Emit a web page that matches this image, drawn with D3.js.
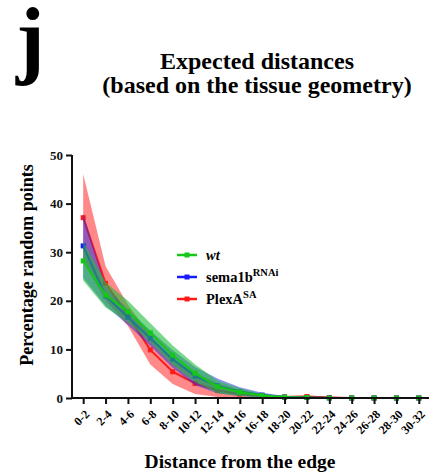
<!DOCTYPE html>
<html>
<head>
<meta charset="utf-8">
<script src="https://cdn.jsdelivr.net/npm/d3@7"></script>
<style>
  body { margin: 0; background: #fff; }
  svg { font-family: "Liberation Serif", "Times New Roman", serif; font-weight: bold; }
</style>
</head>
<body>
<svg id="chart" width="429" height="473"></svg>
<script>
// distance bins from the edge
const bins = ["0-2", "2-4", "4-6", "6-8", "8-10", "10-12", "12-14", "14-16",
    "16-18", "18-20", "20-22", "22-24", "24-26", "26-28", "28-30", "30-32"];

const yTicks = [0, 10, 20, 30, 40, 50];

// mean values
const wtMean    = [28.2, 21.2, 17.8, 13.4, 8.8, 5.1, 2.3, 1.2, 0.5, 0.2, 0.1, 0, 0, 0, 0, 0];
const semaMean  = [31.3, 21.0, 16.6, 12.3, 8.0, 4.5, 2.5, 1.3, 0.6, 0.2, 0.1, 0, 0, 0, 0, 0];
const plexMean  = [37.1, 23.6, 17.0, 9.9, 5.4, 3.0, 1.6, 0.8, 0.4, 0.2, 0.3, 0.1, 0, 0, 0, 0];

// band half widths (sd)
const wtSd   = [4.0, 2.6, 2.2, 2.0, 2.0, 1.8, 1.3, 0.8, 0.4, 0.2, 0.1, 0, 0, 0, 0, 0];
const semaSd = [6.6, 2.0, 1.6, 1.6, 1.8, 1.9, 1.5, 0.9, 0.5, 0.2, 0.1, 0, 0, 0, 0, 0];
const plexSd = [9.0, 3.5, 2.2, 3.0, 2.5, 2.2, 1.4, 0.8, 0.4, 0.2, 0.2, 0.1, 0, 0, 0, 0];

const series = [
    { name: "PlexA", sup: "SA", mean: plexMean, sd: plexSd, color: "#ff1a1a", fill: "rgba(255,40,40,0.55)" },
    { name: "sema1b", sup: "RNAi", mean: semaMean, sd: semaSd, color: "#1a1aff", fill: "rgba(40,40,230,0.5)" },
    { name: "wt", sup: "", mean: wtMean, sd: wtSd, color: "#16c816", fill: "rgba(30,190,60,0.6)" }
];

const svg = d3.select("#chart");

const x0 = 72, x1 = 430, yTop = 155, yBottom = 398;

let xScale = d3.scalePoint()
    .domain(bins)
    .range([x0, x1])
    .padding(0.5);

let yScale = d3.scaleLinear()
    .domain([0, 50])
    .range([yBottom, yTop]);

// panel letter + title
svg.append("text")
    .attr("x", 16).attr("y", 67)
    .style("font-size", "86px")
    .text("j");

svg.append("text")
    .attr("x", 257).attr("y", 69)
    .attr("text-anchor", "middle")
    .style("font-size", "24px")
    .text("Expected distances");

svg.append("text")
    .attr("x", 257).attr("y", 93)
    .attr("text-anchor", "middle")
    .style("font-size", "24px")
    .text("(based on the tissue geometry)");

// bands and lines
series.forEach(s => {
    let rows = bins.map((b, i) => ({ b: b, m: s.mean[i], sd: s.sd[i] }));

    let area = d3.area()
        .x(d => xScale(d.b))
        .y0(d => yScale(Math.max(0, d.m - d.sd)))
        .y1(d => yScale(d.m + d.sd));

    svg.append("path")
        .datum(rows)
        .attr("d", area)
        .attr("fill", s.fill);

    let line = d3.line()
        .x(d => xScale(d.b))
        .y(d => yScale(d.m));

    svg.append("path")
        .datum(rows)
        .attr("d", line)
        .attr("fill", "none")
        .attr("stroke", s.color)
        .attr("stroke-width", 2);

    svg.selectAll(null)
        .data(rows)
        .enter()
        .append("rect")
        .attr("x", d => xScale(d.b) - 2.5)
        .attr("y", d => yScale(d.m) - 2.5)
        .attr("width", 5)
        .attr("height", 5)
        .attr("fill", s.color);
});

// axes
let yAxis = svg.append("g")
    .attr("transform", "translate(" + x0 + ",0)")
    .call(d3.axisLeft(yScale).tickValues(yTicks).tickSize(6).tickPadding(3));

let xAxis = svg.append("g")
    .attr("transform", "translate(0," + yBottom + ")")
    .call(d3.axisBottom(xScale).tickSize(6).tickFormat(""));

[yAxis, xAxis].forEach(a => {
    a.select(".domain").attr("stroke", "#111").attr("stroke-width", 2);
    a.selectAll(".tick line").attr("stroke", "#111").attr("stroke-width", 2);
});
xAxis.select(".domain").attr("d", "M" + x0 + ",0H" + x1);
yAxis.select(".domain").attr("d", "M0," + yTop + "V" + yBottom);

yAxis.selectAll(".tick text")
    .style("font-family", "Liberation Serif")
    .style("font-weight", "bold")
    .style("font-size", "13px")
    .attr("fill", "#111");

// rotated bin labels
svg.selectAll(".xlab")
    .data(bins)
    .enter()
    .append("text")
    .attr("class", "xlab")
    .attr("text-anchor", "end")
    .attr("transform", d => "translate(" + (xScale(d) + 1) + ",409) rotate(-45)")
    .attr("dy", "0.7em")
    .style("font-size", "12px")
    .text(d => d);

// axis titles
svg.append("text")
    .attr("transform", "translate(33,265) rotate(-90)")
    .attr("text-anchor", "middle")
    .style("font-size", "18px")
    .text("Percentage random points");

svg.append("text")
    .attr("x", 240).attr("y", 468)
    .attr("text-anchor", "middle")
    .style("font-size", "19.5px")
    .text("Distance from the edge");

// legend
const legendItems = [series[2], series[1], series[0]];
const legendY = [255, 277, 299];

legendItems.forEach((s, i) => {
    let g = svg.append("g").attr("transform", "translate(177," + legendY[i] + ")");
    g.append("line")
        .attr("x1", 0).attr("x2", 20)
        .attr("stroke", s.color)
        .attr("stroke-width", 2.5);
    g.append("rect")
        .attr("x", 7.5).attr("y", -2.5)
        .attr("width", 5).attr("height", 5)
        .attr("fill", s.color);
    let t = g.append("text")
        .attr("x", 29).attr("y", 5)
        .style("font-size", "14.5px");
    t.append("tspan")
        .style("font-style", s.name === "wt" ? "italic" : "normal")
        .text(s.name);
    if (s.sup) {
        t.append("tspan")
            .attr("dy", -6)
            .style("font-size", "10.5px")
            .text(s.sup);
    }
});
</script>
</body>
</html>
